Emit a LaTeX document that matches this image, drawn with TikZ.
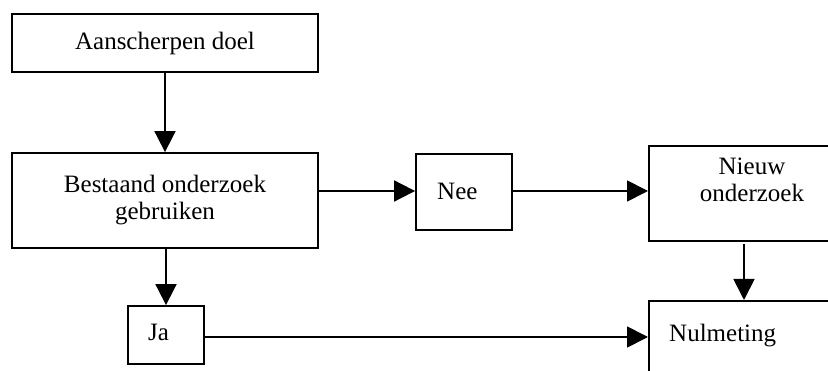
\documentclass[tikz,border=0pt]{standalone}
\usepackage{fontspec}
\setmainfont{Liberation Serif}
\usetikzlibrary{arrows.meta,calc}
\begin{document}
\begin{tikzpicture}[x=1pt,y=-1pt,
  box/.style={draw,line width=1.8pt,rectangle,inner sep=0pt,font=\fontsize{25}{27}\selectfont},
  txt/.style={inner sep=0pt,font=\fontsize{25}{27}\selectfont},
  arr/.style={line width=1.8pt,-{Triangle[length=21pt,width=21pt]}}]
\useasboundingbox (0,0) rectangle (828,371);
\clip (0,0) rectangle (828,371);
\node[box,minimum width=306pt,minimum height=58pt] (doel) at (165,43) {Aanscherpen doel};
\node[box,minimum width=306pt,minimum height=95pt,align=center] (best) at (165,200.5) {Bestaand onderzoek\\gebruiken};
\node[box,minimum width=96pt,minimum height=76pt] (nee) at (464,192) {};
\node[txt,anchor=base west] (neet) at (437,200) {Nee};
\node[box,minimum width=208pt,minimum height=95pt,anchor=north west] (nieuw) at (648,145) {};
\node[txt,anchor=north,align=center] (nieuwt) at (752,158) {Nieuw\\onderzoek};
\node[box,minimum width=76pt,minimum height=58pt] (ja) at (166,335) {};
\node[txt,anchor=base west] (jat) at (148,341) {Ja};
\node[box,minimum width=208pt,minimum height=100pt,anchor=north west] (nul) at (648,300) {};
\node[txt,anchor=base west] (nult) at (669,342) {Nulmeting};
\coordinate (nieuwout) at (744,244);
\draw[arr] (doel.south) -- (doel.south |- best.north);
\draw[arr] (best.east |- 0,191) -- (nee.west |- 0,191);
\draw[arr] (nee.east |- 0,191) -- (nieuw.west |- 0,191);
\draw[arr] (best.south -| 166,0) -- (ja.north);
\draw[arr] (ja.east |- 0,337) -- (nul.west |- 0,337);
\draw[arr] (nieuwout) -- (nieuwout |- nul.north);
\end{tikzpicture}
\end{document}
